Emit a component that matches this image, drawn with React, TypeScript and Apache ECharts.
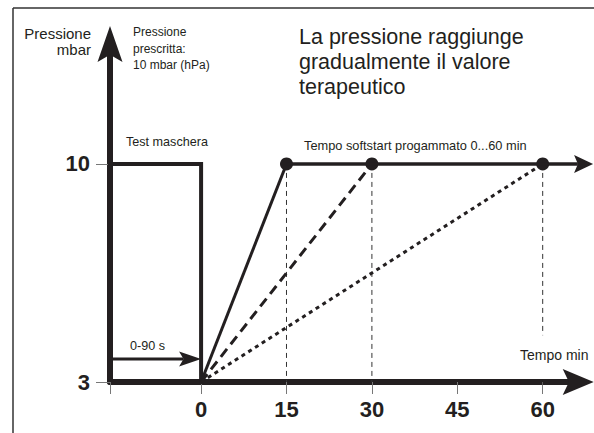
import React, { useEffect, useRef } from "react";
import * as echarts from "echarts";

// ---- data ----
const X_MIN = -16;
const X_MAX = 66.2;
const Y_MIN = 3;
const Y_MAX = 13.85;
const xTickValues = [-16, 0, 15, 30, 45, 60];
const xLabelValues = [0, 15, 30, 45, 60];
const yTickValues = [3, 10];
const startPressure = 3;
const targetPressure = 10;
const maskTest: number[][] = [[-16, 10], [0, 10], [0, 3]];
const softstartTimes = [15, 30, 60];
const guideBottoms = [3, 3, 4.5];
// arrows: [x1, y1, x2, y2]
const targetArrow = [15, 10, 68.85, 10];
const maskTimeArrow = [-16, 3.74, 0, 3.74];
const xAxisArrow = [60, 3, 68.96, 3];
const yAxisArrow = [-16, 12, -16, 14.43];

const INK = "#231f20";
const FONT = "Liberation Sans, Arial, Helvetica, sans-serif";

export default function App() {
  const ref = useRef<HTMLDivElement>(null);
  useEffect(() => {
    if (!ref.current) return;
    const chart = echarts.init(ref.current, undefined, { renderer: "svg" });
    const rampStyles = [
      { type: "solid" as any, width: 3 },
      { type: [10, 6] as any, width: 3 },
      { type: [4, 4] as any, width: 3 },
    ];
    const arrowList = [targetArrow, maskTimeArrow, xAxisArrow, yAxisArrow];
    const arrowHeads = [
      { width: 3.5, len: 19, half: 9 },
      { width: 3, len: 22, half: 7.5 },
      { width: 6, len: 31, half: 13 },
      { width: 6, len: 36, half: 12.5 },
    ];
    const series: any[] = [];
    softstartTimes.forEach((t, i) => {
      series.push({
        type: "line",
        data: [[t, targetPressure], [t, guideBottoms[i]]],
        symbol: "none",
        lineStyle: { color: "#333", width: 1, type: [5, 4] },
        z: 1,
        silent: true,
      });
    });
    series.push({
      type: "line",
      data: maskTest,
      symbol: "none",
      lineStyle: { color: INK, width: 4, cap: "square", join: "miter" },
      z: 3,
    });
    softstartTimes.forEach((t, i) => {
      series.push({
        type: "line",
        data: [[0, startPressure], [t, targetPressure]],
        symbol: "none",
        lineStyle: { color: INK, ...rampStyles[i], cap: "butt" },
        z: 3,
      });
    });
    series.push({
      type: "scatter",
      data: softstartTimes.map((t) => [t, targetPressure]),
      symbol: "circle",
      symbolSize: 13,
      itemStyle: { color: INK, opacity: 1 },
      z: 5,
    });

    const txt = (text: string, x: number, yCenter: number, size: number, lh: number, align = "left") => ({
      type: "text",
      x,
      y: yCenter - lh / 2,
      style: {
        text,
        font: `${size}px ${FONT}`,
        fill: INK,
        textAlign: align,
        textVerticalAlign: "top",
        lineHeight: lh,
      },
      silent: true,
    });

    const baseGraphics: any[] = [
      { type: "line", shape: { x1: 13, y1: 8, x2: 594, y2: 8 }, style: { stroke: "#333", lineWidth: 1.5 }, silent: true },
      { type: "line", shape: { x1: 13, y1: 8, x2: 13, y2: 433 }, style: { stroke: "#333", lineWidth: 1.5 }, silent: true },
      txt("Pressione\nmbar", 91, 33, 15, 16, "right"),
      txt("Pressione\nprescritta:\n10 mbar (hPa)", 133, 32, 12, 16.5),
      txt("La pressione raggiunge\ngradualmente il valore\nterapeutico", 299, 37, 21.5, 25),
      txt("Test maschera", 126, 142, 12.6, 14),
      txt("Tempo softstart progammato 0...60 min", 304, 145, 12.8, 14),
      txt("0-90 s", 130, 346, 12.6, 14),
      txt("Tempo min", 520, 355, 14, 15),
    ];

    chart.setOption({
      animation: false,
      backgroundColor: "#fff",
      grid: {
        left: 110,
        right: 16,
        top: 44,
        bottom: 51,
        containLabel: false,
        outerBoundsMode: "none",
      },
      xAxis: {
        type: "value",
        min: X_MIN,
        max: X_MAX,
        splitLine: { show: false },
        axisLine: {
          onZero: false,
          lineStyle: { color: INK, width: 6 },
        },
        axisTick: {
          show: true,
          length: 12,
          customValues: xTickValues,
          lineStyle: { color: "#777", width: 1 },
        },
        axisLabel: {
          customValues: xLabelValues,
          margin: 16,
          fontSize: 22,
          fontWeight: "bold",
          fontFamily: FONT,
          color: INK,
        },
      },
      yAxis: {
        type: "value",
        min: Y_MIN,
        max: Y_MAX,
        splitLine: { show: false },
        axisLine: {
          onZero: false,
          lineStyle: { color: INK, width: 6 },
        },
        axisTick: {
          show: true,
          length: 14,
          customValues: yTickValues,
          lineStyle: { color: "#777", width: 1 },
        },
        axisLabel: {
          customValues: yTickValues,
          margin: 20,
          fontSize: 22,
          fontWeight: "bold",
          fontFamily: FONT,
          color: INK,
        },
      },
      series,
      graphic: baseGraphics,
    });

    // arrows: positions from the chart's own axis scales (linear, extrapolated beyond the axis ends)
    const a = chart.convertToPixel({ gridIndex: 0 }, [X_MIN, Y_MIN]) as number[];
    const b = chart.convertToPixel({ gridIndex: 0 }, [X_MAX, Y_MAX]) as number[];
    const sx = (b[0] - a[0]) / (X_MAX - X_MIN);
    const sy = (b[1] - a[1]) / (Y_MAX - Y_MIN);
    const toPx = (x: number, y: number) => [a[0] + (x - X_MIN) * sx, a[1] + (y - Y_MIN) * sy];
    const arrowGraphics: any[] = [];
    arrowList.forEach((arr, i) => {
      const p1 = toPx(arr[0], arr[1]);
      const p2 = toPx(arr[2], arr[3]);
      const h = arrowHeads[i];
      const dx = p2[0] - p1[0];
      const dy = p2[1] - p1[1];
      const L = Math.sqrt(dx * dx + dy * dy) || 1;
      const ux = dx / L;
      const uy = dy / L;
      const nx = -uy;
      const ny = ux;
      const bx = p2[0] - ux * h.len;
      const by = p2[1] - uy * h.len;
      const notchX = p2[0] - ux * h.len * 0.8;
      const notchY = p2[1] - uy * h.len * 0.8;
      arrowGraphics.push({
        type: "line",
        z: 20,
        silent: true,
        shape: { x1: p1[0], y1: p1[1], x2: notchX, y2: notchY },
        style: { stroke: INK, lineWidth: h.width },
      });
      arrowGraphics.push({
        type: "polygon",
        z: 20,
        silent: true,
        shape: {
          points: [
            [p2[0], p2[1]],
            [bx + nx * h.half, by + ny * h.half],
            [notchX, notchY],
            [bx - nx * h.half, by - ny * h.half],
          ],
        },
        style: { fill: INK },
      });
    });
    chart.setOption({ graphic: [...baseGraphics, ...arrowGraphics] });

    return () => chart.dispose();
  }, []);
  return (
    <div
      ref={ref}
      style={{ position: "fixed", left: 0, top: 0, width: 594, height: 433 }}
    />
  );
}
